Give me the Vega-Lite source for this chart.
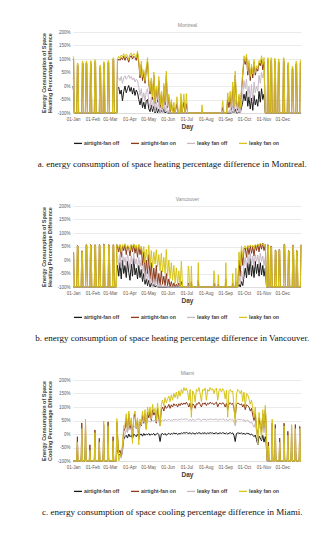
{
"$schema":"https://vega.github.io/schema/vega-lite/v6.json",
"background":"white",
"padding":{"left":33,"top":22,"right":5,"bottom":5},
"bounds":"flush",
"spacing":93,
"resolve":{"scale":{"color":"independent"},"legend":{"color":"independent"}},
"config":{"font":"Liberation Sans","view":{"stroke":null},
"axis":{"labelColor":"#595959","labelFontSize":4.5,"titleColor":"#404040","titleFontWeight":"bold","ticks":false,"labelPadding":3,"gridColor":"#dcdcdc","gridWidth":0.6,"domainColor":"#d4d4d4","domainWidth":0.6},
"title":{"font":"Liberation Serif","fontSize":9,"fontWeight":"normal","color":"#111111","orient":"bottom","anchor":"middle","frame":"bounds","offset":13}},
"datasets":{
"m":[
{"t":"2019-01-01","a":0,"b":100,"c":30,"d":110},{"t":"2019-01-02","a":-20,"b":95,"c":20,"d":106},{"t":"2019-01-03","a":-100,"b":-100,"c":-100,"d":-100},
{"t":"2019-01-07","a":-100,"b":-100,"c":-100,"d":-100},{"t":"2019-01-08","a":-100,"b":78,"c":-100,"d":85},{"t":"2019-01-09","a":-100,"b":75,"c":-100,"d":84},{"t":"2019-01-10","a":-100,"b":-100,"c":-100,"d":-100},
{"t":"2019-01-15","a":-100,"b":-100,"c":-100,"d":-100},{"t":"2019-01-16","a":-100,"b":85,"c":-100,"d":92},{"t":"2019-01-17","a":-100,"b":82,"c":-100,"d":90},{"t":"2019-01-18","a":-100,"b":-100,"c":-100,"d":-100},
{"t":"2019-01-21","a":-100,"b":-100,"c":-100,"d":-100},{"t":"2019-01-22","a":-100,"b":85,"c":-100,"d":92},{"t":"2019-01-23","a":-100,"b":84,"c":-100,"d":91},{"t":"2019-01-24","a":-100,"b":-100,"c":-100,"d":-100},
{"t":"2019-01-28","a":-100,"b":-100,"c":-100,"d":-100},{"t":"2019-01-29","a":-100,"b":86,"c":-100,"d":93},{"t":"2019-01-30","a":-100,"b":84,"c":-100,"d":92},{"t":"2019-01-31","a":-100,"b":-100,"c":-100,"d":-100},
{"t":"2019-02-04","a":-100,"b":-100,"c":-100,"d":-100},{"t":"2019-02-05","a":-100,"b":90,"c":-100,"d":98},{"t":"2019-02-06","a":-100,"b":88,"c":-100,"d":96},{"t":"2019-02-07","a":-100,"b":-100,"c":-100,"d":-100},
{"t":"2019-02-12","a":-100,"b":-100,"c":-100,"d":-100},{"t":"2019-02-13","a":-100,"b":70,"c":-100,"d":78},{"t":"2019-02-14","a":-100,"b":68,"c":-100,"d":76},{"t":"2019-02-15","a":-100,"b":-100,"c":-100,"d":-100},
{"t":"2019-02-18","a":-100,"b":-100,"c":-100,"d":-100},{"t":"2019-02-19","a":-100,"b":83,"c":-100,"d":90},{"t":"2019-02-20","a":-100,"b":82,"c":-100,"d":89},{"t":"2019-02-21","a":-100,"b":-100,"c":-100,"d":-100},
{"t":"2019-02-25","a":-100,"b":-100,"c":-100,"d":-100},{"t":"2019-02-26","a":-100,"b":88,"c":-100,"d":95},{"t":"2019-02-27","a":-100,"b":86,"c":-100,"d":93},{"t":"2019-02-28","a":-100,"b":-100,"c":-100,"d":-100},
{"t":"2019-03-05","a":-100,"b":-100,"c":-100,"d":-100},{"t":"2019-03-06","a":-100,"b":98,"c":-100,"d":105},{"t":"2019-03-07","a":-100,"b":95,"c":-100,"d":103},{"t":"2019-03-08","a":-100,"b":-100,"c":-100,"d":-100},
{"t":"2019-03-12","a":-100,"b":-100,"c":-100,"d":-100},
{"t":"2019-03-13","a":-10,"b":92,"c":25,"d":100},{"t":"2019-03-15","a":-5,"b":100,"c":30,"d":110},{"t":"2019-03-17","a":-30,"b":95,"c":20,"d":102},{"t":"2019-03-19","a":-15,"b":105,"c":35,"d":115},
{"t":"2019-03-21","a":-55,"b":98,"c":10,"d":108},{"t":"2019-03-23","a":-20,"b":110,"c":30,"d":120},{"t":"2019-03-25","a":0,"b":95,"c":38,"d":104},{"t":"2019-03-27","a":-25,"b":108,"c":25,"d":118},
{"t":"2019-03-29","a":-10,"b":102,"c":32,"d":112},{"t":"2019-03-31","a":2,"b":88,"c":40,"d":96},{"t":"2019-04-02","a":-20,"b":108,"c":28,"d":118},{"t":"2019-04-04","a":-5,"b":112,"c":35,"d":122},
{"t":"2019-04-06","a":-30,"b":100,"c":22,"d":110},{"t":"2019-04-08","a":-8,"b":110,"c":30,"d":120},{"t":"2019-04-10","a":-35,"b":105,"c":15,"d":114},{"t":"2019-04-12","a":-15,"b":95,"c":25,"d":105},
{"t":"2019-04-14","a":-25,"b":120,"c":20,"d":130},{"t":"2019-04-16","a":-50,"b":85,"c":-5,"d":95},{"t":"2019-04-18","a":-70,"b":30,"c":-35,"d":40},{"t":"2019-04-20","a":-45,"b":80,"c":-10,"d":92},
{"t":"2019-04-22","a":-80,"b":20,"c":-50,"d":35},{"t":"2019-04-24","a":-60,"b":50,"c":-25,"d":60},{"t":"2019-04-26","a":-85,"b":10,"c":-55,"d":20},{"t":"2019-04-28","a":-55,"b":60,"c":-20,"d":70},
{"t":"2019-04-30","a":-50,"b":90,"c":-10,"d":105},{"t":"2019-05-02","a":-85,"b":10,"c":-60,"d":20},{"t":"2019-05-04","a":-95,"b":-30,"c":-80,"d":-20},{"t":"2019-05-06","a":-70,"b":20,"c":-40,"d":30},
{"t":"2019-05-08","a":-95,"b":-50,"c":-85,"d":-40},{"t":"2019-05-10","a":-75,"b":40,"c":-45,"d":52},{"t":"2019-05-12","a":-100,"b":-65,"c":-95,"d":-60},{"t":"2019-05-14","a":-80,"b":-10,"c":-60,"d":0},
{"t":"2019-05-16","a":-100,"b":-60,"c":-90,"d":-50},{"t":"2019-05-18","a":-85,"b":20,"c":-55,"d":35},{"t":"2019-05-20","a":-100,"b":-80,"c":-100,"d":-70},{"t":"2019-05-22","a":-90,"b":-30,"c":-75,"d":-20},
{"t":"2019-05-24","a":-100,"b":-85,"c":-100,"d":-80},{"t":"2019-05-26","a":-85,"b":0,"c":-60,"d":10},{"t":"2019-05-28","a":-100,"b":-70,"c":-95,"d":-60},{"t":"2019-05-30","a":-95,"b":40,"c":-70,"d":55},
{"t":"2019-06-01","a":-100,"b":-80,"c":-100,"d":-75},{"t":"2019-06-03","a":-100,"b":-40,"c":-90,"d":-30},{"t":"2019-06-05","a":-100,"b":-95,"c":-100,"d":-90},{"t":"2019-06-07","a":-100,"b":-60,"c":-100,"d":-50},
{"t":"2019-06-09","a":-100,"b":-100,"c":-100,"d":-100},{"t":"2019-06-11","a":-100,"b":-80,"c":-100,"d":-60},{"t":"2019-06-13","a":-100,"b":-100,"c":-100,"d":-100},
{"t":"2019-06-16","a":-100,"b":-65,"c":-100,"d":-40},{"t":"2019-06-18","a":-100,"b":-100,"c":-100,"d":-100},{"t":"2019-06-21","a":-100,"b":-100,"c":-100,"d":-100},
{"t":"2019-06-22","a":-100,"b":-55,"c":-100,"d":-28},{"t":"2019-06-23","a":-100,"b":-60,"c":-100,"d":-35},{"t":"2019-06-24","a":-100,"b":-100,"c":-100,"d":-100},
{"t":"2019-06-27","a":-100,"b":-60,"c":-100,"d":-30},{"t":"2019-06-29","a":-100,"b":-100,"c":-100,"d":-100},{"t":"2019-07-01","a":-100,"b":-65,"c":-100,"d":-28},{"t":"2019-07-03","a":-100,"b":-100,"c":-100,"d":-100},
{"t":"2019-07-25","a":-100,"b":-100,"c":-100,"d":-100},{"t":"2019-07-26","a":-100,"b":-90,"c":-100,"d":-70},{"t":"2019-07-27","a":-100,"b":-100,"c":-100,"d":-100},
{"t":"2019-08-26","a":-100,"b":-100,"c":-100,"d":-100},{"t":"2019-08-28","a":-100,"b":-80,"c":-100,"d":-55},{"t":"2019-08-30","a":-100,"b":-100,"c":-100,"d":-100},
{"t":"2019-09-03","a":-100,"b":-100,"c":-100,"d":-100},{"t":"2019-09-05","a":-100,"b":-50,"c":-90,"d":-25},{"t":"2019-09-07","a":-100,"b":-80,"c":-100,"d":-60},{"t":"2019-09-09","a":-100,"b":-40,"c":-85,"d":-20},
{"t":"2019-09-11","a":-100,"b":-90,"c":-100,"d":-80},{"t":"2019-09-13","a":-95,"b":0,"c":-70,"d":15},{"t":"2019-09-15","a":-100,"b":-85,"c":-100,"d":-75},{"t":"2019-09-17","a":-85,"b":40,"c":-50,"d":55},
{"t":"2019-09-19","a":-100,"b":-60,"c":-95,"d":-50},{"t":"2019-09-21","a":-100,"b":-90,"c":-100,"d":-85},{"t":"2019-09-23","a":-95,"b":-40,"c":-80,"d":-30},{"t":"2019-09-25","a":-100,"b":-85,"c":-100,"d":-80},
{"t":"2019-09-27","a":-80,"b":-20,"c":-60,"d":-10},{"t":"2019-09-29","a":-60,"b":40,"c":-30,"d":50},{"t":"2019-10-01","a":-30,"b":100,"c":20,"d":112},{"t":"2019-10-03","a":-55,"b":80,"c":-10,"d":90},
{"t":"2019-10-05","a":-20,"b":108,"c":25,"d":118},{"t":"2019-10-07","a":-75,"b":40,"c":-40,"d":55},{"t":"2019-10-09","a":-40,"b":85,"c":0,"d":95},{"t":"2019-10-11","a":-85,"b":20,"c":-55,"d":35},
{"t":"2019-10-13","a":-45,"b":70,"c":5,"d":80},{"t":"2019-10-15","a":-90,"b":30,"c":-60,"d":45},{"t":"2019-10-17","a":-35,"b":88,"c":15,"d":98},{"t":"2019-10-19","a":-70,"b":40,"c":-25,"d":50},
{"t":"2019-10-21","a":-50,"b":65,"c":0,"d":75},{"t":"2019-10-23","a":-75,"b":55,"c":-20,"d":65},{"t":"2019-10-25","a":-20,"b":85,"c":40,"d":95},{"t":"2019-10-27","a":-60,"b":75,"c":10,"d":85},
{"t":"2019-10-29","a":-10,"b":98,"c":50,"d":112},{"t":"2019-10-31","a":-50,"b":60,"c":30,"d":80},{"t":"2019-11-02","a":-30,"b":90,"c":55,"d":105},{"t":"2019-11-04","a":-100,"b":-100,"c":-100,"d":-100},
{"t":"2019-11-07","a":-100,"b":-100,"c":-100,"d":-100},{"t":"2019-11-08","a":-100,"b":95,"c":-100,"d":105},{"t":"2019-11-09","a":-100,"b":92,"c":-100,"d":103},{"t":"2019-11-10","a":-100,"b":-100,"c":-100,"d":-100},
{"t":"2019-11-12","a":-100,"b":-100,"c":-100,"d":-100},{"t":"2019-11-13","a":-100,"b":95,"c":-100,"d":105},{"t":"2019-11-14","a":-100,"b":93,"c":-100,"d":103},{"t":"2019-11-15","a":-100,"b":-100,"c":-100,"d":-100},
{"t":"2019-11-18","a":-100,"b":-100,"c":-100,"d":-100},{"t":"2019-11-19","a":-100,"b":93,"c":-100,"d":103},{"t":"2019-11-20","a":-100,"b":90,"c":-100,"d":100},{"t":"2019-11-21","a":-100,"b":-100,"c":-100,"d":-100},
{"t":"2019-11-24","a":-100,"b":-100,"c":-100,"d":-100},{"t":"2019-11-25","a":-100,"b":90,"c":-100,"d":100},{"t":"2019-11-26","a":-100,"b":88,"c":-100,"d":98},{"t":"2019-11-27","a":-100,"b":-100,"c":-100,"d":-100},
{"t":"2019-12-02","a":-100,"b":-100,"c":-100,"d":-100},{"t":"2019-12-03","a":-100,"b":95,"c":-100,"d":105},{"t":"2019-12-04","a":-100,"b":93,"c":-100,"d":103},{"t":"2019-12-05","a":-100,"b":-100,"c":-100,"d":-100},
{"t":"2019-12-09","a":-100,"b":-100,"c":-100,"d":-100},{"t":"2019-12-10","a":-100,"b":78,"c":-100,"d":88},{"t":"2019-12-11","a":-100,"b":76,"c":-100,"d":86},{"t":"2019-12-12","a":-100,"b":-100,"c":-100,"d":-100},
{"t":"2019-12-16","a":-100,"b":-100,"c":-100,"d":-100},{"t":"2019-12-17","a":-100,"b":65,"c":-100,"d":74},{"t":"2019-12-18","a":-100,"b":63,"c":-100,"d":72},{"t":"2019-12-19","a":-100,"b":-100,"c":-100,"d":-100},
{"t":"2019-12-22","a":-100,"b":-100,"c":-100,"d":-100},{"t":"2019-12-23","a":-100,"b":82,"c":-100,"d":92},{"t":"2019-12-24","a":-100,"b":80,"c":-100,"d":90},{"t":"2019-12-25","a":-100,"b":-100,"c":-100,"d":-100},
{"t":"2019-12-29","a":-100,"b":-100,"c":-100,"d":-100},{"t":"2019-12-30","a":-100,"b":86,"c":-100,"d":96},{"t":"2019-12-31","a":-100,"b":84,"c":-100,"d":94}
],
"v":[
{"t":"2019-01-01","a":-100,"b":29,"c":-100,"d":27},{"t":"2019-01-02","a":-100,"b":27,"c":-100,"d":25},{"t":"2019-01-03","a":-100,"b":-100,"c":-100,"d":-100},
{"t":"2019-01-07","a":-100,"b":-100,"c":-100,"d":-100},{"t":"2019-01-08","a":-100,"b":54,"c":-100,"d":52},{"t":"2019-01-09","a":-100,"b":52,"c":-100,"d":50},{"t":"2019-01-10","a":-100,"b":-100,"c":-100,"d":-100},
{"t":"2019-01-14","a":-100,"b":-100,"c":-100,"d":-100},{"t":"2019-01-15","a":-100,"b":34,"c":-100,"d":32},{"t":"2019-01-16","a":-100,"b":32,"c":-100,"d":30},{"t":"2019-01-17","a":-100,"b":-100,"c":-100,"d":-100},
{"t":"2019-01-21","a":-100,"b":-100,"c":-100,"d":-100},{"t":"2019-01-22","a":-100,"b":57,"c":-100,"d":55},{"t":"2019-01-23","a":-100,"b":55,"c":-100,"d":53},{"t":"2019-01-24","a":-100,"b":-100,"c":-100,"d":-100},
{"t":"2019-01-28","a":-100,"b":-100,"c":-100,"d":-100},{"t":"2019-01-29","a":-100,"b":57,"c":-100,"d":55},{"t":"2019-01-30","a":-100,"b":55,"c":-100,"d":53},{"t":"2019-01-31","a":-100,"b":-100,"c":-100,"d":-100},
{"t":"2019-02-04","a":-100,"b":-100,"c":-100,"d":-100},{"t":"2019-02-05","a":-100,"b":57,"c":-100,"d":55},{"t":"2019-02-06","a":-100,"b":55,"c":-100,"d":53},{"t":"2019-02-07","a":-100,"b":-100,"c":-100,"d":-100},
{"t":"2019-02-11","a":-100,"b":-100,"c":-100,"d":-100},{"t":"2019-02-12","a":-100,"b":57,"c":-100,"d":55},{"t":"2019-02-13","a":-100,"b":55,"c":-100,"d":53},{"t":"2019-02-14","a":-100,"b":-100,"c":-100,"d":-100},
{"t":"2019-02-18","a":-100,"b":-100,"c":-100,"d":-100},{"t":"2019-02-19","a":-100,"b":59,"c":-100,"d":57},{"t":"2019-02-20","a":-100,"b":57,"c":-100,"d":55},{"t":"2019-02-21","a":-100,"b":-100,"c":-100,"d":-100},
{"t":"2019-02-26","a":-100,"b":-100,"c":-100,"d":-100},{"t":"2019-02-27","a":-100,"b":57,"c":-100,"d":55},{"t":"2019-02-28","a":-100,"b":55,"c":-100,"d":53},{"t":"2019-03-01","a":-100,"b":-100,"c":-100,"d":-100},
{"t":"2019-03-05","a":-100,"b":-100,"c":-100,"d":-100},{"t":"2019-03-06","a":-100,"b":57,"c":-100,"d":55},{"t":"2019-03-07","a":-100,"b":55,"c":-100,"d":53},{"t":"2019-03-08","a":-100,"b":-100,"c":-100,"d":-100},
{"t":"2019-03-11","a":-100,"b":-100,"c":-100,"d":-100},{"t":"2019-03-12","a":-28,"b":57,"c":12,"d":57},
{"t":"2019-03-13","a":-20,"b":50,"c":15,"d":55},{"t":"2019-03-15","a":-60,"b":30,"c":-20,"d":45},{"t":"2019-03-17","a":-10,"b":55,"c":20,"d":58},{"t":"2019-03-19","a":-70,"b":10,"c":-30,"d":30},
{"t":"2019-03-21","a":0,"b":52,"c":25,"d":57},{"t":"2019-03-23","a":-50,"b":35,"c":-10,"d":50},{"t":"2019-03-25","a":-20,"b":58,"c":10,"d":60},{"t":"2019-03-27","a":-65,"b":20,"c":-25,"d":42},
{"t":"2019-03-29","a":-5,"b":50,"c":20,"d":55},{"t":"2019-03-31","a":-45,"b":45,"c":0,"d":52},{"t":"2019-04-02","a":-75,"b":15,"c":-35,"d":35},{"t":"2019-04-04","a":-15,"b":55,"c":15,"d":58},
{"t":"2019-04-06","a":-60,"b":30,"c":-20,"d":48},{"t":"2019-04-08","a":5,"b":58,"c":25,"d":60},{"t":"2019-04-10","a":-55,"b":25,"c":-15,"d":45},{"t":"2019-04-12","a":-30,"b":50,"c":5,"d":56},
{"t":"2019-04-14","a":-70,"b":10,"c":-30,"d":35},{"t":"2019-04-16","a":-20,"b":55,"c":10,"d":58},{"t":"2019-04-18","a":-65,"b":20,"c":-25,"d":40},{"t":"2019-04-20","a":-35,"b":45,"c":0,"d":52},
{"t":"2019-04-22","a":-80,"b":-20,"c":-50,"d":20},{"t":"2019-04-24","a":-50,"b":30,"c":-15,"d":50},{"t":"2019-04-26","a":-90,"b":-60,"c":-75,"d":-10},{"t":"2019-04-28","a":-70,"b":0,"c":-40,"d":40},
{"t":"2019-04-30","a":-95,"b":-50,"c":-80,"d":-5},{"t":"2019-05-02","a":-75,"b":20,"c":-40,"d":55},{"t":"2019-05-04","a":-100,"b":-70,"c":-90,"d":-20},{"t":"2019-05-06","a":-85,"b":-10,"c":-60,"d":35},
{"t":"2019-05-08","a":-100,"b":-85,"c":-100,"d":-30},{"t":"2019-05-10","a":-90,"b":-30,"c":-70,"d":30},{"t":"2019-05-12","a":-100,"b":-80,"c":-95,"d":-15},{"t":"2019-05-14","a":-95,"b":-20,"c":-70,"d":38},
{"t":"2019-05-16","a":-100,"b":-90,"c":-100,"d":-25},{"t":"2019-05-18","a":-100,"b":-50,"c":-85,"d":20},{"t":"2019-05-20","a":-100,"b":-95,"c":-100,"d":-40},{"t":"2019-05-22","a":-100,"b":-40,"c":-90,"d":25},
{"t":"2019-05-24","a":-100,"b":-90,"c":-100,"d":-45},{"t":"2019-05-26","a":-100,"b":-60,"c":-95,"d":10},{"t":"2019-05-28","a":-100,"b":-95,"c":-100,"d":-50},{"t":"2019-05-30","a":-100,"b":-50,"c":-95,"d":39},
{"t":"2019-06-01","a":-100,"b":-95,"c":-100,"d":-60},{"t":"2019-06-03","a":-100,"b":-70,"c":-100,"d":0},{"t":"2019-06-05","a":-100,"b":-100,"c":-100,"d":-70},{"t":"2019-06-07","a":-100,"b":-80,"c":-100,"d":-10},
{"t":"2019-06-09","a":-100,"b":-100,"c":-100,"d":-75},{"t":"2019-06-11","a":-100,"b":-85,"c":-100,"d":-20},{"t":"2019-06-13","a":-100,"b":-100,"c":-100,"d":-85},{"t":"2019-06-15","a":-100,"b":-90,"c":-100,"d":-29},
{"t":"2019-06-17","a":-100,"b":-100,"c":-100,"d":-90},{"t":"2019-06-19","a":-100,"b":-85,"c":-100,"d":-40},{"t":"2019-06-21","a":-100,"b":-100,"c":-100,"d":-100},{"t":"2019-06-23","a":-100,"b":-80,"c":-100,"d":-5},
{"t":"2019-06-25","a":-100,"b":-100,"c":-100,"d":-100},
{"t":"2019-07-03","a":-100,"b":-100,"c":-100,"d":-100},{"t":"2019-07-04","a":-100,"b":-85,"c":-100,"d":-22},{"t":"2019-07-05","a":-100,"b":-90,"c":-100,"d":-30},{"t":"2019-07-06","a":-100,"b":-100,"c":-100,"d":-100},
{"t":"2019-07-08","a":-100,"b":-100,"c":-100,"d":-100},{"t":"2019-07-09","a":-100,"b":-80,"c":-100,"d":-22},{"t":"2019-07-10","a":-100,"b":-100,"c":-100,"d":-100},
{"t":"2019-07-19","a":-100,"b":-100,"c":-100,"d":-100},{"t":"2019-07-20","a":-100,"b":-75,"c":-100,"d":-10},{"t":"2019-07-21","a":-100,"b":-100,"c":-100,"d":-100},
{"t":"2019-08-13","a":-100,"b":-100,"c":-100,"d":-100},{"t":"2019-08-14","a":-100,"b":-85,"c":-100,"d":-40},{"t":"2019-08-15","a":-100,"b":-90,"c":-100,"d":-60},{"t":"2019-08-16","a":-100,"b":-100,"c":-100,"d":-100},
{"t":"2019-08-20","a":-100,"b":-100,"c":-100,"d":-100},{"t":"2019-08-21","a":-100,"b":-90,"c":-100,"d":-55},{"t":"2019-08-22","a":-100,"b":-100,"c":-100,"d":-100},
{"t":"2019-09-01","a":-100,"b":-100,"c":-100,"d":-100},{"t":"2019-09-02","a":-100,"b":-70,"c":-100,"d":-10},{"t":"2019-09-03","a":-100,"b":-100,"c":-100,"d":-100},
{"t":"2019-09-12","a":-100,"b":-100,"c":-100,"d":-100},{"t":"2019-09-13","a":-100,"b":-85,"c":-100,"d":-50},{"t":"2019-09-14","a":-100,"b":-100,"c":-100,"d":-100},
{"t":"2019-09-17","a":-100,"b":-100,"c":-100,"d":-100},{"t":"2019-09-18","a":-100,"b":-80,"c":-100,"d":-30},{"t":"2019-09-19","a":-100,"b":-100,"c":-100,"d":-100},
{"t":"2019-09-21","a":-100,"b":-100,"c":-100,"d":-100},{"t":"2019-09-23","a":-90,"b":0,"c":-60,"d":30},{"t":"2019-09-25","a":-100,"b":-60,"c":-90,"d":-20},{"t":"2019-09-27","a":-80,"b":35,"c":-40,"d":51},
{"t":"2019-09-29","a":-95,"b":-20,"c":-75,"d":10},{"t":"2019-10-01","a":-60,"b":40,"c":-20,"d":50},{"t":"2019-10-03","a":-30,"b":45,"c":10,"d":52},{"t":"2019-10-05","a":-66,"b":10,"c":-30,"d":40},
{"t":"2019-10-07","a":-10,"b":50,"c":20,"d":55},{"t":"2019-10-09","a":-55,"b":20,"c":-15,"d":45},{"t":"2019-10-11","a":5,"b":52,"c":25,"d":56},{"t":"2019-10-13","a":-60,"b":25,"c":-20,"d":48},
{"t":"2019-10-15","a":-20,"b":50,"c":15,"d":55},{"t":"2019-10-17","a":-65,"b":15,"c":-25,"d":42},{"t":"2019-10-19","a":-5,"b":55,"c":20,"d":58},{"t":"2019-10-21","a":-50,"b":35,"c":-5,"d":50},
{"t":"2019-10-23","a":-15,"b":58,"c":18,"d":60},{"t":"2019-10-25","a":-60,"b":30,"c":-15,"d":52},{"t":"2019-10-27","a":-10,"b":60,"c":25,"d":62},{"t":"2019-10-29","a":-55,"b":40,"c":-5,"d":55},
{"t":"2019-10-31","a":-20,"b":62,"c":15,"d":60},{"t":"2019-11-02","a":-60,"b":35,"c":-20,"d":50},{"t":"2019-11-04","a":-30,"b":58,"c":10,"d":58},{"t":"2019-11-06","a":-100,"b":-100,"c":-100,"d":-100},
{"t":"2019-11-07","a":-100,"b":-100,"c":-100,"d":-100},{"t":"2019-11-08","a":-100,"b":57,"c":-100,"d":55},{"t":"2019-11-09","a":-100,"b":55,"c":-100,"d":53},{"t":"2019-11-10","a":-100,"b":-100,"c":-100,"d":-100},
{"t":"2019-11-12","a":-100,"b":-100,"c":-100,"d":-100},{"t":"2019-11-13","a":-100,"b":52,"c":-100,"d":50},{"t":"2019-11-14","a":-100,"b":50,"c":-100,"d":48},{"t":"2019-11-15","a":-100,"b":-100,"c":-100,"d":-100},
{"t":"2019-11-19","a":-100,"b":-100,"c":-100,"d":-100},{"t":"2019-11-20","a":-100,"b":37,"c":-100,"d":35},{"t":"2019-11-21","a":-100,"b":35,"c":-100,"d":33},{"t":"2019-11-22","a":-100,"b":-100,"c":-100,"d":-100},
{"t":"2019-11-25","a":-100,"b":-100,"c":-100,"d":-100},{"t":"2019-11-26","a":-100,"b":39,"c":-100,"d":37},{"t":"2019-11-27","a":-100,"b":37,"c":-100,"d":35},{"t":"2019-11-28","a":-100,"b":-100,"c":-100,"d":-100},
{"t":"2019-12-03","a":-100,"b":-100,"c":-100,"d":-100},{"t":"2019-12-04","a":-100,"b":58,"c":-100,"d":56},{"t":"2019-12-05","a":-100,"b":56,"c":-100,"d":54},{"t":"2019-12-06","a":-100,"b":-100,"c":-100,"d":-100},
{"t":"2019-12-10","a":-100,"b":-100,"c":-100,"d":-100},{"t":"2019-12-11","a":-100,"b":35,"c":-100,"d":33},{"t":"2019-12-12","a":-100,"b":33,"c":-100,"d":31},{"t":"2019-12-13","a":-100,"b":-100,"c":-100,"d":-100},
{"t":"2019-12-17","a":-100,"b":-100,"c":-100,"d":-100},{"t":"2019-12-18","a":-100,"b":55,"c":-100,"d":53},{"t":"2019-12-19","a":-100,"b":53,"c":-100,"d":51},{"t":"2019-12-20","a":-100,"b":-100,"c":-100,"d":-100},
{"t":"2019-12-23","a":-100,"b":-100,"c":-100,"d":-100},{"t":"2019-12-24","a":-100,"b":35,"c":-100,"d":33},{"t":"2019-12-25","a":-100,"b":33,"c":-100,"d":31},{"t":"2019-12-26","a":-100,"b":-100,"c":-100,"d":-100},
{"t":"2019-12-30","a":-100,"b":-100,"c":-100,"d":-100},{"t":"2019-12-31","a":-100,"b":57,"c":-100,"d":55}
],
"mi":[
{"t":"2019-01-01","a":-100,"b":-100,"c":-100,"d":-100},{"t":"2019-01-07","a":-100,"b":-100,"c":-100,"d":-100},{"t":"2019-01-08","a":-100,"b":-10,"c":-100,"d":-30},{"t":"2019-01-09","a":-100,"b":-100,"c":-100,"d":-100},
{"t":"2019-01-14","a":-100,"b":-100,"c":-100,"d":-100},{"t":"2019-01-15","a":-60,"b":41,"c":-40,"d":20},{"t":"2019-01-16","a":-100,"b":-100,"c":-100,"d":-100},
{"t":"2019-01-20","a":-100,"b":-100,"c":-100,"d":-100},{"t":"2019-01-21","a":-50,"b":40,"c":-30,"d":55},{"t":"2019-01-22","a":-100,"b":-100,"c":-100,"d":-100},
{"t":"2019-01-27","a":-100,"b":-100,"c":-100,"d":-100},{"t":"2019-01-28","a":-100,"b":-40,"c":-100,"d":-60},{"t":"2019-01-29","a":-100,"b":-100,"c":-100,"d":-100},
{"t":"2019-02-04","a":-100,"b":-100,"c":-100,"d":-100},{"t":"2019-02-05","a":-70,"b":15,"c":-50,"d":5},{"t":"2019-02-06","a":-100,"b":-100,"c":-100,"d":-100},
{"t":"2019-02-11","a":-100,"b":-100,"c":-100,"d":-100},{"t":"2019-02-12","a":-100,"b":-16,"c":-100,"d":-30},{"t":"2019-02-13","a":-100,"b":-100,"c":-100,"d":-100},
{"t":"2019-02-18","a":-100,"b":-100,"c":-100,"d":-100},{"t":"2019-02-19","a":-50,"b":35,"c":-30,"d":48},{"t":"2019-02-20","a":-100,"b":-100,"c":-100,"d":-100},
{"t":"2019-02-25","a":-100,"b":-100,"c":-100,"d":-100},{"t":"2019-02-26","a":-55,"b":45,"c":-35,"d":30},{"t":"2019-02-27","a":-100,"b":-100,"c":-100,"d":-100},
{"t":"2019-03-05","a":-100,"b":-100,"c":-100,"d":-100},{"t":"2019-03-06","a":-100,"b":-10,"c":-100,"d":-25},{"t":"2019-03-07","a":-100,"b":-100,"c":-100,"d":-100},
{"t":"2019-03-11","a":-100,"b":-100,"c":-100,"d":-100},{"t":"2019-03-12","a":-40,"b":45,"c":-20,"d":57},{"t":"2019-03-13","a":-60,"b":0,"c":-50,"d":10},{"t":"2019-03-15","a":-80,"b":-70,"c":-85,"d":-100},
{"t":"2019-03-17","a":-75,"b":-60,"c":-80,"d":-85},{"t":"2019-03-19","a":-85,"b":-80,"c":-90,"d":-70},{"t":"2019-03-21","a":-60,"b":-50,"c":-65,"d":-40},{"t":"2019-03-23","a":-20,"b":10,"c":-10,"d":30},
{"t":"2019-03-25","a":-10,"b":20,"c":0,"d":35},{"t":"2019-03-27","a":-5,"b":60,"c":15,"d":75},{"t":"2019-03-29","a":-15,"b":10,"c":5,"d":10},{"t":"2019-03-31","a":0,"b":75,"c":25,"d":85},
{"t":"2019-04-02","a":-10,"b":20,"c":15,"d":30},{"t":"2019-04-04","a":-5,"b":50,"c":20,"d":60},{"t":"2019-04-06","a":-15,"b":-20,"c":5,"d":-35},{"t":"2019-04-08","a":0,"b":60,"c":25,"d":70},
{"t":"2019-04-10","a":-5,"b":75,"c":30,"d":85},{"t":"2019-04-12","a":-10,"b":20,"c":20,"d":25},{"t":"2019-04-14","a":0,"b":50,"c":30,"d":60},{"t":"2019-04-16","a":-12,"b":-20,"c":15,"d":-40},
{"t":"2019-04-18","a":-2,"b":45,"c":30,"d":55},{"t":"2019-04-20","a":0,"b":30,"c":35,"d":35},{"t":"2019-04-22","a":-8,"b":70,"c":38,"d":85},{"t":"2019-04-24","a":2,"b":40,"c":40,"d":45},
{"t":"2019-04-26","a":-5,"b":75,"c":42,"d":90},{"t":"2019-04-28","a":0,"b":20,"c":40,"d":15},{"t":"2019-04-30","a":-3,"b":80,"c":45,"d":100},{"t":"2019-05-02","a":2,"b":60,"c":48,"d":70},
{"t":"2019-05-04","a":-5,"b":85,"c":45,"d":100},{"t":"2019-05-06","a":0,"b":50,"c":45,"d":55},{"t":"2019-05-08","a":-2,"b":90,"c":50,"d":110},{"t":"2019-05-10","a":2,"b":70,"c":48,"d":80},
{"t":"2019-05-12","a":-5,"b":80,"c":50,"d":95},{"t":"2019-05-14","a":0,"b":40,"c":45,"d":50},{"t":"2019-05-16","a":3,"b":95,"c":52,"d":115},{"t":"2019-05-18","a":-2,"b":60,"c":48,"d":70},
{"t":"2019-05-20","a":-28,"b":30,"c":30,"d":30},{"t":"2019-05-22","a":0,"b":90,"c":50,"d":110},{"t":"2019-05-24","a":2,"b":100,"c":52,"d":125},{"t":"2019-05-26","a":-3,"b":85,"c":48,"d":105},
{"t":"2019-05-28","a":2,"b":105,"c":55,"d":135},{"t":"2019-05-30","a":-5,"b":95,"c":50,"d":115},{"t":"2019-06-01","a":0,"b":100,"c":52,"d":130},{"t":"2019-06-03","a":3,"b":110,"c":55,"d":140},
{"t":"2019-06-05","a":-2,"b":95,"c":50,"d":120},{"t":"2019-06-07","a":2,"b":108,"c":52,"d":145},{"t":"2019-06-09","a":0,"b":100,"c":50,"d":125},{"t":"2019-06-11","a":4,"b":112,"c":55,"d":150},
{"t":"2019-06-13","a":1,"b":105,"c":52,"d":135},{"t":"2019-06-15","a":3,"b":110,"c":55,"d":155},{"t":"2019-06-17","a":-2,"b":100,"c":50,"d":130},{"t":"2019-06-19","a":2,"b":112,"c":55,"d":160},
{"t":"2019-06-21","a":0,"b":105,"c":52,"d":140},{"t":"2019-06-23","a":4,"b":115,"c":56,"d":165},{"t":"2019-06-25","a":2,"b":108,"c":53,"d":150},{"t":"2019-06-27","a":5,"b":115,"c":55,"d":172},
{"t":"2019-06-29","a":3,"b":110,"c":55,"d":160},{"t":"2019-07-01","a":6,"b":118,"c":56,"d":170},{"t":"2019-07-03","a":3,"b":110,"c":54,"d":155},{"t":"2019-07-05","a":2,"b":100,"c":50,"d":125},
{"t":"2019-07-07","a":5,"b":115,"c":55,"d":165},{"t":"2019-07-09","a":0,"b":90,"c":48,"d":62},{"t":"2019-07-11","a":4,"b":112,"c":55,"d":160},{"t":"2019-07-13","a":2,"b":108,"c":52,"d":150},
{"t":"2019-07-15","a":0,"b":95,"c":50,"d":118},{"t":"2019-07-17","a":4,"b":112,"c":55,"d":165},{"t":"2019-07-19","a":2,"b":110,"c":54,"d":158},{"t":"2019-07-21","a":5,"b":118,"c":56,"d":172},
{"t":"2019-07-23","a":3,"b":110,"c":52,"d":150},{"t":"2019-07-25","a":1,"b":100,"c":50,"d":120},{"t":"2019-07-27","a":4,"b":115,"c":55,"d":165},{"t":"2019-07-29","a":2,"b":110,"c":53,"d":160},
{"t":"2019-07-31","a":5,"b":116,"c":56,"d":170},{"t":"2019-08-02","a":0,"b":105,"c":50,"d":125},{"t":"2019-08-04","a":4,"b":114,"c":55,"d":165},{"t":"2019-08-06","a":2,"b":110,"c":52,"d":158},
{"t":"2019-08-08","a":5,"b":118,"c":56,"d":172},{"t":"2019-08-10","a":3,"b":112,"c":54,"d":162},{"t":"2019-08-12","a":4,"b":115,"c":55,"d":168},{"t":"2019-08-14","a":1,"b":108,"c":52,"d":150},
{"t":"2019-08-16","a":3,"b":114,"c":55,"d":165},{"t":"2019-08-18","a":5,"b":118,"c":56,"d":170},{"t":"2019-08-20","a":0,"b":100,"c":50,"d":125},{"t":"2019-08-22","a":3,"b":112,"c":54,"d":160},
{"t":"2019-08-24","a":4,"b":115,"c":55,"d":168},{"t":"2019-08-26","a":2,"b":110,"c":52,"d":155},{"t":"2019-08-28","a":5,"b":116,"c":56,"d":168},{"t":"2019-08-30","a":3,"b":112,"c":54,"d":160},
{"t":"2019-09-01","a":1,"b":100,"c":50,"d":130},{"t":"2019-09-03","a":4,"b":114,"c":55,"d":162},{"t":"2019-09-05","a":0,"b":90,"c":48,"d":62},{"t":"2019-09-07","a":3,"b":112,"c":54,"d":160},
{"t":"2019-09-09","a":5,"b":116,"c":55,"d":165},{"t":"2019-09-11","a":2,"b":110,"c":52,"d":155},{"t":"2019-09-13","a":4,"b":114,"c":54,"d":160},{"t":"2019-09-15","a":-5,"b":95,"c":45,"d":100},
{"t":"2019-09-17","a":-28,"b":60,"c":30,"d":40},{"t":"2019-09-19","a":2,"b":110,"c":52,"d":150},{"t":"2019-09-21","a":4,"b":115,"c":55,"d":165},{"t":"2019-09-23","a":3,"b":112,"c":54,"d":160},
{"t":"2019-09-25","a":2,"b":108,"c":52,"d":150},{"t":"2019-09-27","a":4,"b":112,"c":55,"d":162},{"t":"2019-09-29","a":0,"b":100,"c":50,"d":120},{"t":"2019-10-01","a":3,"b":110,"c":53,"d":155},
{"t":"2019-10-03","a":-2,"b":90,"c":45,"d":100},{"t":"2019-10-05","a":3,"b":108,"c":52,"d":150},{"t":"2019-10-07","a":2,"b":105,"c":50,"d":145},{"t":"2019-10-09","a":1,"b":100,"c":48,"d":130},
{"t":"2019-10-11","a":-3,"b":85,"c":40,"d":110},{"t":"2019-10-13","a":0,"b":95,"c":45,"d":125},{"t":"2019-10-15","a":-5,"b":70,"c":35,"d":95},{"t":"2019-10-17","a":-10,"b":50,"c":25,"d":60},
{"t":"2019-10-19","a":-4,"b":75,"c":40,"d":100},{"t":"2019-10-21","a":-20,"b":20,"c":10,"d":20},{"t":"2019-10-23","a":-40,"b":-10,"c":-10,"d":-40},{"t":"2019-10-25","a":-8,"b":60,"c":30,"d":80},
{"t":"2019-10-27","a":-15,"b":30,"c":20,"d":40},{"t":"2019-10-29","a":-25,"b":10,"c":0,"d":-20},{"t":"2019-10-31","a":-5,"b":75,"c":35,"d":90},{"t":"2019-11-02","a":-30,"b":20,"c":5,"d":30},
{"t":"2019-11-04","a":-10,"b":90,"c":40,"d":106},{"t":"2019-11-05","a":-20,"b":50,"c":20,"d":60},{"t":"2019-11-07","a":-100,"b":-100,"c":-100,"d":-100},
{"t":"2019-11-08","a":-100,"b":-100,"c":-100,"d":-100},{"t":"2019-11-09","a":-100,"b":-30,"c":-100,"d":-45},{"t":"2019-11-10","a":-100,"b":-100,"c":-100,"d":-100},
{"t":"2019-11-14","a":-100,"b":-100,"c":-100,"d":-100},{"t":"2019-11-15","a":-50,"b":40,"c":-30,"d":55},{"t":"2019-11-16","a":-100,"b":-100,"c":-100,"d":-100},
{"t":"2019-11-19","a":-100,"b":-100,"c":-100,"d":-100},{"t":"2019-11-20","a":-60,"b":35,"c":-40,"d":20},{"t":"2019-11-21","a":-100,"b":-100,"c":-100,"d":-100},
{"t":"2019-11-26","a":-100,"b":-100,"c":-100,"d":-100},{"t":"2019-11-27","a":-100,"b":-15,"c":-100,"d":-30},{"t":"2019-11-28","a":-100,"b":-100,"c":-100,"d":-100},
{"t":"2019-12-03","a":-100,"b":-100,"c":-100,"d":-100},{"t":"2019-12-04","a":-55,"b":40,"c":-35,"d":30},{"t":"2019-12-05","a":-100,"b":-100,"c":-100,"d":-100},
{"t":"2019-12-09","a":-100,"b":-100,"c":-100,"d":-100},{"t":"2019-12-10","a":-80,"b":10,"c":-60,"d":-5},{"t":"2019-12-11","a":-100,"b":-100,"c":-100,"d":-100},
{"t":"2019-12-15","a":-100,"b":-100,"c":-100,"d":-100},{"t":"2019-12-16","a":-60,"b":25,"c":-40,"d":35},{"t":"2019-12-17","a":-100,"b":-100,"c":-100,"d":-100},
{"t":"2019-12-21","a":-100,"b":-100,"c":-100,"d":-100},{"t":"2019-12-22","a":-60,"b":35,"c":-40,"d":20},{"t":"2019-12-23","a":-100,"b":-100,"c":-100,"d":-100},
{"t":"2019-12-28","a":-100,"b":-100,"c":-100,"d":-100},{"t":"2019-12-29","a":-65,"b":28,"c":-45,"d":20},{"t":"2019-12-30","a":-100,"b":-100,"c":-100,"d":-100},{"t":"2019-12-31","a":-100,"b":-100,"c":-100,"d":-100}
]},
"vconcat":[
{"width":228,"height":81,
"title":{"text":"a. energy consumption of space heating  percentage difference in Montreal."},
"resolve":{"axis":{"x":"independent"}},
"layer":[
{"data":{"name":"m"},"transform":[{"fold":["a","b","c","d"],"as":["s","v"]}],
"mark":{"type":"line","strokeWidth":1},
"encoding":{
"x":{"field":"t","type":"temporal","scale":{"type":"utc","domain":[{"year":2019,"month":1,"date":1,"utc":true},{"year":2019,"month":12,"date":31,"utc":true}]},"axis":{"tickCount":"month","format":"%d-%b","title":"Day","grid":false,"labelOverlap":false,"labelFlush":false,"titleFontSize":6.5,"titlePadding":3}},
"y":{"field":"v","type":"quantitative","scale":{"domain":[-100,200],"nice":false},"axis":{"values":[-100,-50,0,50,100,150,200],"labelExpr":"datum.value + '%'","domain":false,"title":["Energy Consumption of Space","Heating Percentage Difference"],"titleFontSize":5.5,"titleLineHeight":6.5,"titlePadding":4}},
"color":{"field":"s","type":"nominal","scale":{"domain":["a","b","c","d"],"range":["#1a1a1a","#8b3a1a","#c8b8c4","#d6c418"]},"legend":{"orient":"bottom","direction":"horizontal","title":null,"symbolType":"stroke","symbolSize":64,"symbolStrokeWidth":1.3,"labelFontSize":5.2,"labelFontWeight":"bold","labelColor":"#404040","labelOffset":1,"columnPadding":8,"offset":8,"labelExpr":"datum.label == 'a' ? 'airtight-fan off' : datum.label == 'b' ? 'airtight-fan on' : datum.label == 'c' ? 'leaky fan off' : 'leaky fan on'"}}}},
{"data":{"values":[]},"mark":"point","encoding":{"x":{"field":"t","type":"temporal","axis":{"orient":"top","title":"Montreal","labels":false,"ticks":false,"domain":false,"grid":false,"titleFontSize":5,"titleColor":"#8a8a8a","titleFontWeight":"normal","titlePadding":5}}}}
]},
{"width":228,"height":81,
"title":{"text":"b. energy consumption of space heating  percentage difference in Vancouver."},
"resolve":{"axis":{"x":"independent"}},
"layer":[
{"data":{"name":"v"},"transform":[{"fold":["a","b","c","d"],"as":["s","v"]}],
"mark":{"type":"line","strokeWidth":1},
"encoding":{
"x":{"field":"t","type":"temporal","scale":{"type":"utc","domain":[{"year":2019,"month":1,"date":1,"utc":true},{"year":2019,"month":12,"date":31,"utc":true}]},"axis":{"tickCount":"month","format":"%d-%b","title":"Day","grid":false,"labelOverlap":false,"labelFlush":false,"titleFontSize":6.5,"titlePadding":3}},
"y":{"field":"v","type":"quantitative","scale":{"domain":[-100,200],"nice":false},"axis":{"values":[-100,-50,0,50,100,150,200],"labelExpr":"datum.value + '%'","domain":false,"title":["Energy Consumption of Space","Heating Percentage Difference"],"titleFontSize":5.5,"titleLineHeight":6.5,"titlePadding":4}},
"color":{"field":"s","type":"nominal","scale":{"domain":["a","b","c","d"],"range":["#1a1a1a","#8b3a1a","#c8b8c4","#d6c418"]},"legend":{"orient":"bottom","direction":"horizontal","title":null,"symbolType":"stroke","symbolSize":64,"symbolStrokeWidth":1.3,"labelFontSize":5.2,"labelFontWeight":"bold","labelColor":"#404040","labelOffset":1,"columnPadding":8,"offset":8,"labelExpr":"datum.label == 'a' ? 'airtight-fan off' : datum.label == 'b' ? 'airtight-fan on' : datum.label == 'c' ? 'leaky fan off' : 'leaky fan on'"}}}},
{"data":{"values":[]},"mark":"point","encoding":{"x":{"field":"t","type":"temporal","axis":{"orient":"top","title":"Vancouver","labels":false,"ticks":false,"domain":false,"grid":false,"titleFontSize":5,"titleColor":"#8a8a8a","titleFontWeight":"normal","titlePadding":5}}}}
]},
{"width":228,"height":81,
"title":{"text":"c. energy consumption of space cooling  percentage difference in Miami."},
"resolve":{"axis":{"x":"independent"}},
"layer":[
{"data":{"name":"mi"},"transform":[{"fold":["a","b","c","d"],"as":["s","v"]}],
"mark":{"type":"line","strokeWidth":1},
"encoding":{
"x":{"field":"t","type":"temporal","scale":{"type":"utc","domain":[{"year":2019,"month":1,"date":1,"utc":true},{"year":2019,"month":12,"date":31,"utc":true}]},"axis":{"tickCount":"month","format":"%d-%b","title":"Day","grid":false,"labelOverlap":false,"labelFlush":false,"titleFontSize":6.5,"titlePadding":3}},
"y":{"field":"v","type":"quantitative","scale":{"domain":[-100,200],"nice":false},"axis":{"values":[-100,-50,0,50,100,150,200],"labelExpr":"datum.value + '%'","domain":false,"title":["Energy Consumption of Space","Cooling Percentage Difference"],"titleFontSize":5.5,"titleLineHeight":6.5,"titlePadding":4}},
"color":{"field":"s","type":"nominal","scale":{"domain":["a","b","c","d"],"range":["#1a1a1a","#8b3a1a","#c8b8c4","#d6c418"]},"legend":{"orient":"bottom","direction":"horizontal","title":null,"symbolType":"stroke","symbolSize":64,"symbolStrokeWidth":1.3,"labelFontSize":5.2,"labelFontWeight":"bold","labelColor":"#404040","labelOffset":1,"columnPadding":8,"offset":8,"labelExpr":"datum.label == 'a' ? 'airtight-fan off' : datum.label == 'b' ? 'airtight-fan on' : datum.label == 'c' ? 'leaky fan off' : 'leaky fan on'"}}}},
{"data":{"values":[]},"mark":"point","encoding":{"x":{"field":"t","type":"temporal","axis":{"orient":"top","title":"Miami","labels":false,"ticks":false,"domain":false,"grid":false,"titleFontSize":5,"titleColor":"#8a8a8a","titleFontWeight":"normal","titlePadding":5}}}}
]}
]
}
